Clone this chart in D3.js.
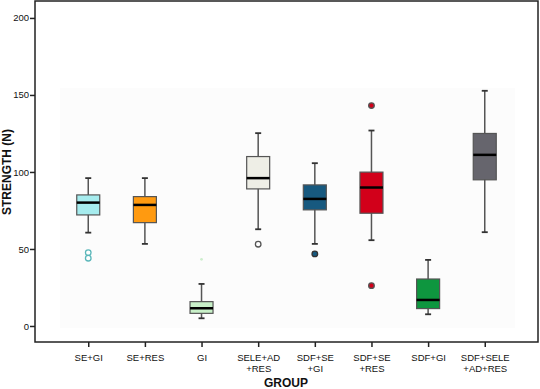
<!DOCTYPE html>
<html>
<head>
<meta charset="utf-8">
<script src="https://cdn.jsdelivr.net/npm/d3@7"></script>
<style>
  body { margin: 0; background: #fff; }
  text { font-family: "Liberation Sans", Arial, sans-serif; }
</style>
</head>
<body>
<svg id="chart" width="540" height="389"></svg>
<script>
// groups (two-line tick labels)
const groups = ["SE+GI", "SE+RES", "GI", "SELE+AD+RES", "SDF+SE+GI", "SDF+SE+RES", "SDF+GI", "SDF+SELE+AD+RES"];
const groupLines = [["SE+GI"], ["SE+RES"], ["GI"], ["SELE+AD", "+RES"], ["SDF+SE", "+GI"], ["SDF+SE", "+RES"], ["SDF+GI"], ["SDF+SELE", "+AD+RES"]];

// box stats
const whiskerLow  = [60.6, 53.3, 5.0, 62.8, 53.3, 55.7, 7.6, 60.9];
const q1Values    = [72.1, 67.1, 8.2, 89.0, 75.4, 73.2, 11.3, 94.9];
const medians     = [80.1, 78.6, 11.5, 96.0, 82.5, 89.9, 16.9, 111.1];
const q3Values    = [85.1, 84.0, 15.8, 110.0, 91.6, 99.9, 30.5, 125.0];
const whiskerHigh = [96.0, 96.0, 27.3, 125.2, 105.7, 126.9, 42.9, 152.7];

// outliers: [group index, value]
const outliers = [[0, 47.6], [0, 44.0], [2, 43.3], [3, 53.1], [4, 46.8], [5, 143.1], [5, 26.2]];

const yTicks = [0, 50, 100, 150, 200];

const fills = ["#a6ecee", "#ff9a10", "#c8f0c8", "#eeeee6", "#17597f", "#d2001a", "#0e963f", "#66656d"];
const outlierStyle = [
  { fill: "#fff", stroke: "#5bb7ba", r: 2.8 },
  null,
  { fill: "#cdeecd", stroke: "none", r: 1.4 },
  { fill: "#fff", stroke: "#555", r: 2.8 },
  { fill: "#17597f", stroke: "#333", r: 2.8 },
  { fill: "#d2001a", stroke: "#555", r: 2.8 },
  null, null
];

const svg = d3.select("#chart");
const plot = { left: 35, right: 538, top: 1, bottom: 342 };

const x = d3.scalePoint()
  .domain(groups)
  .range([plot.left, plot.right])
  .padding(0.94);

const y = d3.scaleLinear()
  .domain([-10.4, 211])
  .range([plot.bottom, plot.top]);

// faint inner background (as in the scan)
svg.append("rect")
  .attr("x", 60).attr("y", 88)
  .attr("width", 455).attr("height", 240)
  .attr("fill", "#fcfcfc");

// frame
svg.append("rect")
  .attr("x", plot.left).attr("y", plot.top)
  .attr("width", plot.right - plot.left).attr("height", plot.bottom - plot.top)
  .attr("fill", "none")
  .attr("stroke", "#222")
  .attr("stroke-width", 1.5);

// y axis
const yAxis = svg.append("g")
  .attr("transform", `translate(${plot.left},0)`)
  .call(d3.axisLeft(y).tickValues(yTicks).tickSize(5).tickSizeOuter(0));
yAxis.select(".domain").remove();
yAxis.selectAll(".tick line").attr("stroke", "#222").attr("stroke-width", 1.5);
yAxis.selectAll(".tick text")
  .attr("font-size", 9.5).attr("fill", "#111")
  .attr("font-family", "'Liberation Sans', Arial, sans-serif")
  .attr("x", -6);

// x axis
const xAxis = svg.append("g")
  .attr("transform", `translate(0,${plot.bottom})`)
  .call(d3.axisBottom(x).tickSize(5).tickSizeOuter(0).tickFormat(""));
xAxis.select(".domain").remove();
xAxis.selectAll(".tick line").attr("stroke", "#222").attr("stroke-width", 1.5);
xAxis.selectAll(".tick").each(function (d, i) {
  const tick = d3.select(this);
  groupLines[i].forEach((line, j) => {
    tick.append("text")
      .attr("text-anchor", "middle")
      .attr("font-size", 9.5)
      .attr("fill", "#111")
      .attr("y", 19 + j * 10.5)
      .text(line);
  });
});

// axis titles
svg.append("text")
  .attr("transform", `translate(11,${(y(0) + y(200)) / 2}) rotate(-90)`)
  .attr("text-anchor", "middle")
  .attr("font-size", 12).attr("font-weight", "bold").attr("fill", "#111")
  .text("STRENGTH (N)");

svg.append("text")
  .attr("x", 286)
  .attr("y", 387)
  .attr("text-anchor", "middle")
  .attr("font-size", 12).attr("font-weight", "bold").attr("fill", "#111")
  .text("GROUP");

// boxes
const boxW = 23, capW = 6;
const boxes = svg.append("g").selectAll("g")
  .data(groups)
  .join("g")
  .attr("transform", d => `translate(${x(d)},0)`);

boxes.append("line")
  .attr("y1", (d, i) => y(whiskerLow[i]))
  .attr("y2", (d, i) => y(whiskerHigh[i]))
  .attr("stroke", "#555").attr("stroke-width", 1.5);

boxes.append("line")
  .attr("x1", -capW / 2).attr("x2", capW / 2)
  .attr("y1", (d, i) => y(whiskerHigh[i])).attr("y2", (d, i) => y(whiskerHigh[i]))
  .attr("stroke", "#333").attr("stroke-width", 1.8);

boxes.append("line")
  .attr("x1", -capW / 2).attr("x2", capW / 2)
  .attr("y1", (d, i) => y(whiskerLow[i])).attr("y2", (d, i) => y(whiskerLow[i]))
  .attr("stroke", "#333").attr("stroke-width", 1.8);

boxes.append("rect")
  .attr("x", -boxW / 2).attr("width", boxW)
  .attr("y", (d, i) => y(q3Values[i]))
  .attr("height", (d, i) => y(q1Values[i]) - y(q3Values[i]))
  .attr("fill", (d, i) => fills[i])
  .attr("stroke", "#555").attr("stroke-width", 1.2);

boxes.append("line")
  .attr("x1", -boxW / 2).attr("x2", boxW / 2)
  .attr("y1", (d, i) => y(medians[i])).attr("y2", (d, i) => y(medians[i]))
  .attr("stroke", "#000").attr("stroke-width", 2.5);

// outliers
svg.append("g").selectAll("circle")
  .data(outliers)
  .join("circle")
  .attr("cx", d => x(groups[d[0]]))
  .attr("cy", d => y(d[1]))
  .attr("r", d => outlierStyle[d[0]].r)
  .attr("fill", d => outlierStyle[d[0]].fill)
  .attr("stroke", d => outlierStyle[d[0]].stroke)
  .attr("stroke-width", 1.3);
</script>
</body>
</html>
